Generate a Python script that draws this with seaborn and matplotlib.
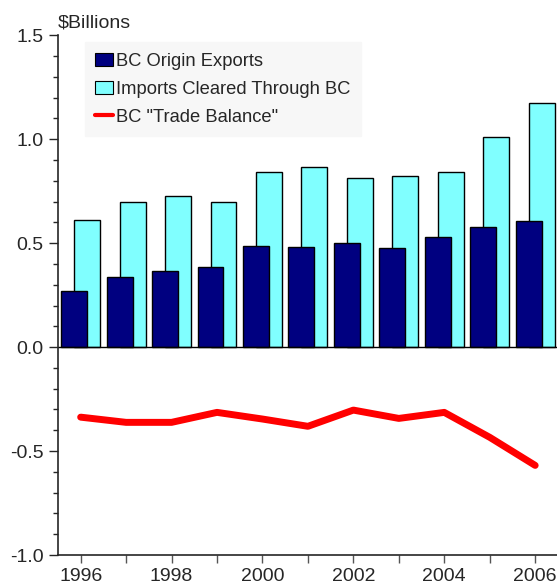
import numpy as np
import seaborn as sns
import matplotlib
matplotlib.use("Agg")
from matplotlib import pyplot as plt
from matplotlib.patches import Patch
from matplotlib.lines import Line2D
from matplotlib.ticker import MultipleLocator

# data ($ billions)
years = [1996, 1997, 1998, 1999, 2000, 2001, 2002, 2003, 2004, 2005, 2006]
bc_exports = [0.27, 0.337, 0.365, 0.385, 0.487, 0.481, 0.503, 0.476, 0.529, 0.577, 0.606]
imports_bc = [0.609, 0.70, 0.729, 0.699, 0.84, 0.864, 0.811, 0.821, 0.843, 1.011, 1.175]
trade_balance = [-0.337, -0.362, -0.362, -0.314, -0.346, -0.381, -0.303, -0.343, -0.314, -0.434, -0.569]

labels = ["BC Origin Exports", "Imports Cleared Through BC", 'BC "Trade Balance"']
navy = "#000080"
cyan = "#80ffff"
red = "#ff0000"

sns.set_style("ticks")
plt.rcParams["font.family"] = ["Liberation Sans", "DejaVu Sans"]

fig = plt.figure(figsize=(5.57, 5.87), dpi=100)
ax = fig.add_axes([0.104, 0.0545, 0.896, 0.8855])

x = np.array(years, dtype=float)
off = 0.143
# imports behind, exports in front, overlapping
sns.barplot(x=x + off, y=imports_bc, native_scale=True, width=0.57,
            color=cyan, edgecolor="black", linewidth=1, saturation=1, ax=ax)
sns.barplot(x=x - off, y=bc_exports, native_scale=True, width=0.57,
            color=navy, edgecolor="black", linewidth=1, saturation=1, ax=ax)
sns.lineplot(x=years, y=trade_balance, color=red, linewidth=5, ax=ax,
             solid_capstyle="round", solid_joinstyle="round")

ax.axhline(0, color="black", linewidth=1, zorder=1)

ax.set_xlim(1995.5, 2006.48)
ax.set_ylim(-1.0, 1.5)
ax.set_xticks(years)
ax.set_xticklabels([str(y) if y % 2 == 0 else "" for y in years])
ax.yaxis.set_major_locator(MultipleLocator(0.5))
ax.yaxis.set_minor_locator(MultipleLocator(0.1))
ax.yaxis.set_major_formatter(matplotlib.ticker.FormatStrFormatter("%.1f"))
ax.tick_params(axis="y", which="major", length=6.5, width=1, labelsize=14, pad=4)
ax.tick_params(axis="y", which="minor", length=3.5, width=1)
ax.tick_params(axis="x", which="major", length=6, width=1, labelsize=14, pad=3,
               color="#555555")
ax.set_xlabel("")
ax.set_ylabel("")

sns.despine(ax=ax, top=True, right=True)
ax.spines["left"].set_linewidth(1.2)
ax.spines["bottom"].set_linewidth(1.2)

ax.text(0.0, 1.015, "$Billions", transform=ax.transAxes, fontsize=14,
        ha="left", va="baseline")

handles = [
    Patch(facecolor=navy, edgecolor="black", linewidth=0.8),
    Patch(facecolor=cyan, edgecolor="black", linewidth=0.8),
    Line2D([0], [0], color=red, linewidth=3),
]
leg = ax.legend(handles, labels, loc="upper left", bbox_to_anchor=(0.054, 0.986),
                fontsize=13.2, frameon=True, fancybox=False, framealpha=1,
                facecolor="#f7f7f7", edgecolor="#f7f7f7", borderaxespad=0,
                handlelength=1.0, handleheight=0.7, handletextpad=0.15,
                labelspacing=0.6, borderpad=0.55)

fig.savefig("out.png", dpi=100)
